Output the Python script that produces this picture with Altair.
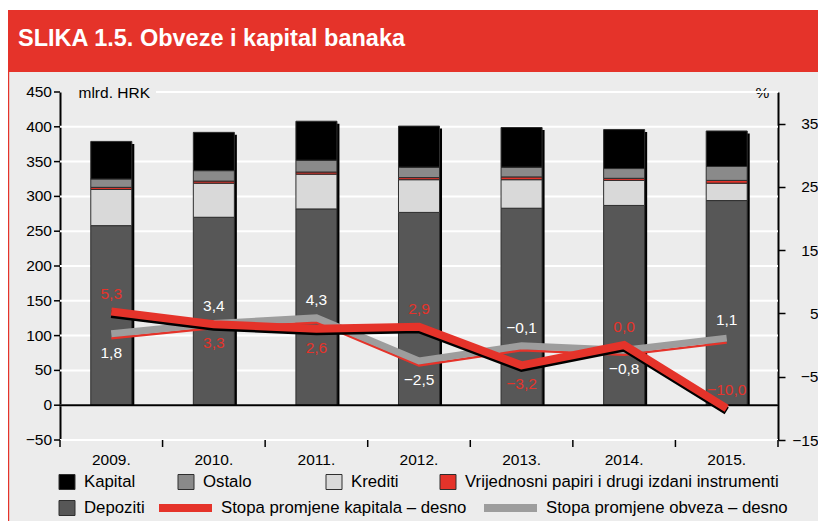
import altair as alt
import pandas as pd

# ---------------- data ----------------
years = ["2009.", "2010.", "2011.", "2012.", "2013.", "2014.", "2015."]
depoziti = [258, 270, 282, 277, 283, 287, 294]
krediti = [52, 49, 50, 47, 41, 36, 25]
vrijednosni = [3, 3, 3, 3, 4, 3, 4]
ostalo = [12, 15, 17, 15, 14, 14, 20]
kapital = [54, 55, 56, 59, 57, 56, 51]
stopa_kapitala = [5.3, 3.3, 2.6, 2.9, -3.2, 0.0, -10.0]
stopa_obveza = [1.8, 3.4, 4.3, -2.5, -0.1, -0.8, 1.1]
# where the value label sits relative to its line
kap_label_side = ["above", "below", "below", "above", "below", "above", "above"]
obv_label_side = ["below", "above", "above", "below", "above", "below", "above"]

series_names = ["Depoziti", "Krediti", "Vrijednosni papiri i drugi izdani instrumenti", "Ostalo", "Kapital"]
series_values = [depoziti, krediti, vrijednosni, ostalo, kapital]
series_colors = ["#575757", "#d9d9d9", "#e5332a", "#8a8a8a", "#000000"]
line_names = ["Stopa promjene kapitala – desno", "Stopa promjene obveza – desno"]
line_colors = ["#e5332a", "#9d9d9d"]

title_text = "SLIKA 1.5. Obveze i kapital banaka"
left_ticks = list(range(-50, 451, 50))
right_ticks = [35, 25, 15, 5, -5, -15]

# ---------------- tables ----------------
rows = []
for si, (name, vals) in enumerate(zip(series_names, series_values)):
    for y, v in zip(years, vals):
        rows.append({"year": y, "series": name, "value": v, "order": si})
bars_df = pd.DataFrame(rows)


def fmt(v, nd=1):
    return f"{v:.{nd}f}".replace(".", ",").replace("-", "\u2212")


lines_df = pd.DataFrame({
    "year": years,
    "kap": stopa_kapitala,
    "obv": stopa_obveza,
    "kap_label": [fmt(v) for v in stopa_kapitala],
    "obv_label": [fmt(v) for v in stopa_obveza],
    "kap_side": kap_label_side,
    "obv_side": obv_label_side,
})
left_df = pd.DataFrame({"v": left_ticks, "label": [fmt(v, 0) for v in left_ticks]})
years_df = pd.DataFrame({"year": years})
last_df = pd.DataFrame({"year": years[-1:]})
one = pd.DataFrame({"a": [0]})

# ---------------- layout / style ----------------
FONT = "Liberation Sans, Arial, Helvetica, sans-serif"
W, H = 718, 348
STEP = W / len(years)
RED = "#e5332a"
TOP = max(left_ticks)

x_scale = alt.Scale(domain=years, paddingInner=0.6, paddingOuter=0.3)
X = alt.X("year:N", sort=years, scale=x_scale,
          axis=alt.Axis(title=None, domain=False, ticks=False, labelAngle=0,
                        labelFont=FONT, labelFontSize=15.5, labelColor="black",
                        labelPadding=12, grid=False))

minus_expr = "replace(datum.label, '-', '\u2212')"
left_axis = alt.Axis(orient="left", title="mlrd. HRK", titleAngle=0, titleX=18, titleY=0,
                     titleAlign="left", titleBaseline="middle", titleFont=FONT,
                     titleFontSize=15.5, titleFontWeight="normal", titleColor="black",
                     values=left_ticks, labels=False, ticks=False, grid=False,
                     domainColor="black", domainWidth=2)
left_scale = alt.Scale(domain=[-50, 450], nice=False, zero=False)

right_axis = alt.Axis(orient="right", title="%", titleAngle=0, titleX=-16, titleY=0,
                      titleAlign="center", titleBaseline="middle", titleFont=FONT,
                      titleFontSize=15.5, titleFontWeight="normal", titleColor="black",
                      values=right_ticks, format="d", labelExpr=minus_expr,
                      labelFont=FONT, labelFontSize=15.5, labelColor="black",
                      labelAlign="right", labelPadding=33, labelOverlap=False,
                      domainColor="black", domainWidth=2, tickColor="black",
                      tickWidth=1.5, tickSize=7, grid=False)
right_scale = alt.Scale(domain=[-15, 40], nice=False, zero=False)

# ---------------- bars (left axis) ----------------
YL_tick = alt.Y("v:Q", scale=left_scale, axis=left_axis)
grid = alt.Chart(left_df).transform_filter(alt.datum.v < TOP).mark_rule(
    color="white", strokeWidth=2).encode(y=YL_tick)
grid_top = alt.Chart(left_df).transform_filter(alt.datum.v == TOP).mark_rule(
    color="white", strokeWidth=2).encode(y=YL_tick, x=alt.value(96), x2=alt.value(W))
lticks = alt.Chart(left_df).mark_rule(color="black", strokeWidth=1.5).encode(
    y=YL_tick, x=alt.value(-6), x2=alt.value(0))
llabels = alt.Chart(left_df).mark_text(font=FONT, fontSize=15.5, color="black",
                                       align="right", baseline="middle").encode(
    y=YL_tick, x=alt.value(-8), text="label:N")

shadow = alt.Chart(bars_df).mark_bar(color="black", xOffset=2.5, yOffset=2.5).encode(
    x=X, y=alt.Y("sum(value):Q", scale=left_scale, axis=left_axis))

bars = alt.Chart(bars_df).mark_bar(stroke="#2e2e2e", strokeWidth=1).encode(
    x=X,
    y=alt.Y("value:Q", scale=left_scale, axis=left_axis, stack="zero"),
    color=alt.Color("series:N", scale=alt.Scale(domain=series_names, range=series_colors),
                    legend=None),
    order=alt.Order("order:Q", sort="ascending"),
)

zero_rule = alt.Chart(one).mark_rule(color="black", strokeWidth=2).encode(y=alt.datum(0))

xticks = alt.Chart(years_df).mark_rule(color="black", strokeWidth=1.5, xOffset=-STEP / 2).encode(
    x=X, y=alt.value(H), y2=alt.value(H + 7))
xtick_end = alt.Chart(last_df).mark_rule(color="black", strokeWidth=1.5, xOffset=STEP / 2).encode(
    x=X, y=alt.value(H), y2=alt.value(H + 7))

bar_part = alt.layer(grid, grid_top, lticks, llabels, shadow, bars, zero_rule,
                     xticks, xtick_end)

# ---------------- lines (right axis) ----------------
base_l = alt.Chart(lines_df)
obv_shadow = base_l.mark_line(color=RED, strokeWidth=2.5, yOffset=4.5).encode(
    x=X, y=alt.Y("obv:Q", scale=right_scale, axis=right_axis))
obv_line = base_l.mark_line(color=line_colors[1], strokeWidth=7).encode(
    x=X, y=alt.Y("obv:Q", scale=right_scale, axis=right_axis))
kap_shadow = base_l.mark_line(color="black", strokeWidth=8, yOffset=2.5).encode(
    x=X, y=alt.Y("kap:Q", scale=right_scale, axis=right_axis))
kap_line = base_l.mark_line(color=line_colors[0], strokeWidth=8).encode(
    x=X, y=alt.Y("kap:Q", scale=right_scale, axis=right_axis))


def labels(field, label, side_field, color):
    out = []
    for side, dy in (("above", -18), ("below", 19)):
        out.append(
            base_l.transform_filter(alt.datum[side_field] == side)
            .mark_text(font=FONT, fontSize=15.5, color=color, dy=dy, baseline="middle")
            .encode(x=X, y=alt.Y(f"{field}:Q", scale=right_scale, axis=right_axis),
                    text=f"{label}:N"))
    return out


line_part = alt.layer(obv_shadow, obv_line, kap_shadow, kap_line,
                      *labels("obv", "obv_label", "obv_side", "white"),
                      *labels("kap", "kap_label", "kap_side", RED))

# ---------------- frame decoration ----------------
def rect(x1, x2, y1, y2, color, stroke=None):
    kw = {"color": color}
    if stroke:
        kw.update(stroke=stroke, strokeWidth=1)
    return alt.Chart(one).mark_rect(**kw).encode(
        x=alt.value(x1), x2=alt.value(x2), y=alt.value(y1), y2=alt.value(y2))


decor = [
    rect(-60, 770, -95, -82, "white"),
    rect(-60, 770, -82, -20, RED),
    rect(-52, -50.8, -20, 440, RED),
    alt.Chart(one).mark_text(text=title_text, font=FONT, fontSize=23.5, fontWeight="bold",
                             color="white", align="left", baseline="middle").encode(
        x=alt.value(-42), y=alt.value(-53)),
]

# ---------------- legend ----------------
legend_layers = []
ROW1, ROW2 = 390, 416
sq_items = [  # (label, colour, square-left, row)
    ("Kapital", series_colors[4], -1, ROW1),
    ("Ostalo", series_colors[3], 118, ROW1),
    ("Krediti", series_colors[1], 266, ROW1),
    (series_names[2], series_colors[2], 380, ROW1),
    ("Depoziti", series_colors[0], -1, ROW2),
]
for name, col, x0, ry in sq_items:
    legend_layers.append(rect(x0, x0 + 16, ry - 7.5, ry + 7.5, col, stroke="#2e2e2e"))
    legend_layers.append(alt.Chart(one).mark_text(text=name, font=FONT, fontSize=16.8,
                                                  color="black", align="left",
                                                  baseline="middle").encode(
        x=alt.value(x0 + 25), y=alt.value(ry)))
ln_items = [(line_names[0], line_colors[0], 99), (line_names[1], line_colors[1], 424)]
for name, col, x0 in ln_items:
    legend_layers.append(rect(x0, x0 + 53, ROW2 - 4, ROW2 + 4, col))
    legend_layers.append(alt.Chart(one).mark_text(text=name, font=FONT, fontSize=16.8,
                                                  color="black", align="left",
                                                  baseline="middle").encode(
        x=alt.value(x0 + 62), y=alt.value(ROW2)))

chart = alt.layer(*decor, *legend_layers, bar_part, line_part).resolve_scale(
    y="independent"
).properties(
    width=W, height=H,
    background="#ececec",
    autosize=alt.AutoSizeParams(type="none"),
    padding={"left": 52, "top": 84, "right": 40, "bottom": 81},
).configure_view(stroke=None)

chart.save("out.html", embed_options={"renderer": "svg", "actions": False})
